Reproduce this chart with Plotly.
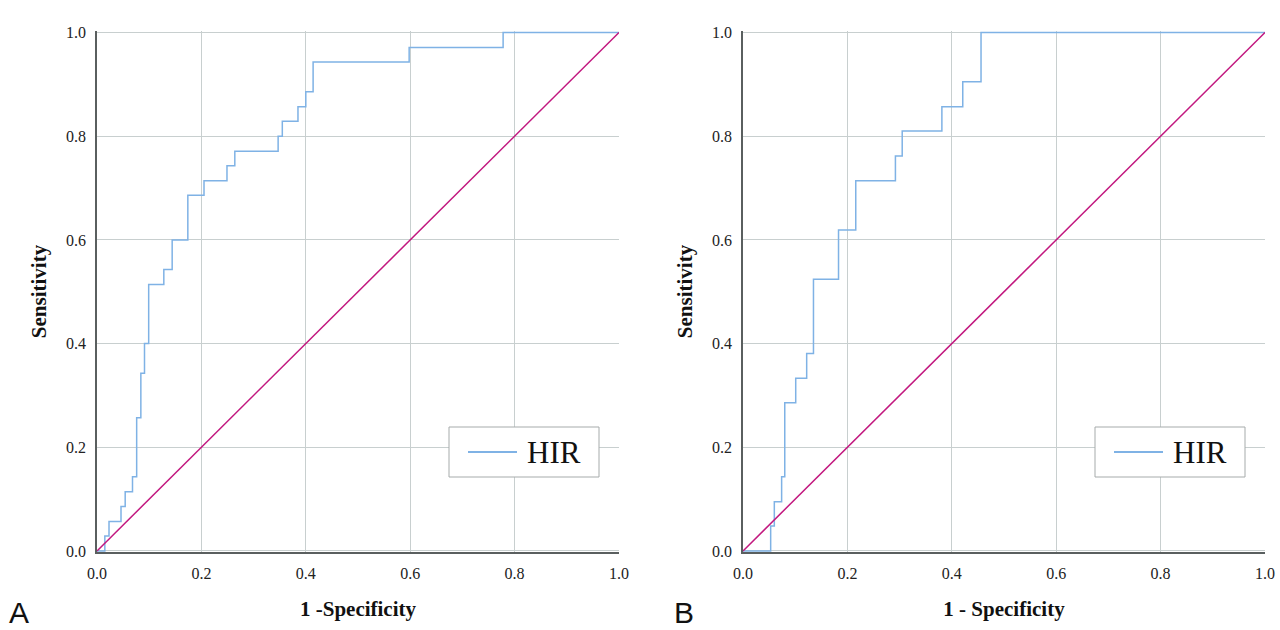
import plotly.graph_objects as go

# Panel A ROC step points (1 - specificity, sensitivity)
fpr_a = [0.0, 0.015, 0.023, 0.046, 0.054, 0.068, 0.076, 0.084, 0.091, 0.099,
         0.128, 0.144, 0.174, 0.205, 0.249, 0.264, 0.347, 0.355, 0.385, 0.400,
         0.414, 0.598, 0.778, 1.0]
tpr_a = [0.0, 0.029, 0.057, 0.086, 0.114, 0.143, 0.257, 0.343, 0.400, 0.514,
         0.543, 0.600, 0.686, 0.714, 0.743, 0.771, 0.800, 0.829, 0.857, 0.886,
         0.943, 0.971, 1.0, 1.0]

# Panel B ROC step points
fpr_b = [0.0, 0.053, 0.060, 0.074, 0.080, 0.101, 0.122, 0.135, 0.183, 0.216,
         0.292, 0.305, 0.381, 0.421, 0.456, 1.0]
tpr_b = [0.0, 0.048, 0.095, 0.143, 0.286, 0.333, 0.381, 0.524, 0.619, 0.714,
         0.762, 0.810, 0.857, 0.905, 1.0, 1.0]

ref_x = [0.0, 1.0]
ref_y = [0.0, 1.0]

tick_vals = [0.0, 0.2, 0.4, 0.6, 0.8, 1.0]
tick_text = ["0.0", "0.2", "0.4", "0.6", "0.8", "1.0"]

series_name = "HIR"
x_titles = ["1 -Specificity", "1 - Specificity"]
y_title = "Sensitivity"
panel_labels = ["A", "B"]

BLUE = "#7fb2e5"
MAGENTA = "#c2187f"
GRID = "#c8cfcf"
AXIS = "#5a5f5f"
SERIF = "Liberation Serif"

W, H = 1280, 630

def fx(p):
    return p / W

def fy(p):
    return 1 - p / H

left_dom = [fx(97), fx(619)]
right_dom = [fx(743), fx(1265)]
y_dom = [fy(552), fy(31)]

fig = go.Figure()

fig.add_trace(go.Scatter(x=fpr_a, y=tpr_a, mode="lines", line=dict(color=BLUE, width=1.5, shape="hv"),
                         name=series_name, xaxis="x", yaxis="y", showlegend=False))
fig.add_trace(go.Scatter(x=ref_x, y=ref_y, mode="lines", line=dict(color=MAGENTA, width=1.5),
                         showlegend=False, xaxis="x", yaxis="y"))
fig.add_trace(go.Scatter(x=fpr_b, y=tpr_b, mode="lines", line=dict(color=BLUE, width=1.5, shape="hv"),
                         name=series_name, xaxis="x2", yaxis="y2", showlegend=False))
fig.add_trace(go.Scatter(x=ref_x, y=ref_y, mode="lines", line=dict(color=MAGENTA, width=1.5),
                         showlegend=False, xaxis="x2", yaxis="y2"))

def xaxis(dom, anchor, title):
    return dict(domain=dom, anchor=anchor, range=[0, 1.0], tickvals=tick_vals, ticktext=tick_text,
                automargin=False,
                showgrid=True, gridcolor=GRID, gridwidth=1, zeroline=False,
                showline=True, linecolor=AXIS, linewidth=1.5, ticks="", ticklabelstandoff=6,
                tickfont=dict(family=SERIF, size=16, color="#222"),
                title=dict(text="<b>%s</b>" % title, font=dict(family=SERIF, size=21, color="#111"), standoff=20))

def yaxis(anchor):
    return dict(domain=y_dom, anchor=anchor, range=[-0.002, 1.003], tickvals=tick_vals, ticktext=tick_text,
                automargin=False,
                showgrid=True, gridcolor=GRID, gridwidth=1, zeroline=False,
                showline=True, linecolor=AXIS, linewidth=1.5, ticks="", ticklabelstandoff=6,
                tickfont=dict(family=SERIF, size=16, color="#222"),
                title=dict(text="<b>%s</b>" % y_title, font=dict(family=SERIF, size=21, color="#111"), standoff=14))

# Legend boxes (one per panel), drawn as a framed key: line sample + label
shapes = []
annotations = []
for box_left in (449, 1095):
    shapes.append(dict(type="rect", xref="paper", yref="paper",
                       x0=fx(box_left), x1=fx(box_left + 150), y0=fy(477), y1=fy(427),
                       line=dict(color="#a6abab", width=1), fillcolor="white", layer="above"))
    shapes.append(dict(type="line", xref="paper", yref="paper",
                       x0=fx(box_left + 19), x1=fx(box_left + 68), y0=fy(452), y1=fy(452),
                       line=dict(color=BLUE, width=2), layer="above"))
    annotations.append(dict(text=series_name, x=fx(box_left + 76), y=fy(452), xref="paper", yref="paper",
                            xanchor="left", yanchor="middle", showarrow=False,
                            font=dict(family=SERIF, size=31, color="#111")))

for lbl, cx in zip(panel_labels, (19, 684)):
    annotations.append(dict(text=lbl, x=fx(cx), y=fy(612), xref="paper", yref="paper",
                            xanchor="center", yanchor="middle", showarrow=False,
                            font=dict(family="Liberation Sans", size=30, color="#111")))

fig.update_layout(
    width=W, height=H,
    margin=dict(l=0, r=0, t=0, b=0, autoexpand=False),
    paper_bgcolor="white", plot_bgcolor="white",
    showlegend=False,
    xaxis=xaxis(left_dom, "y", x_titles[0]),
    yaxis=yaxis("x"),
    xaxis2=xaxis(right_dom, "y2", x_titles[1]),
    yaxis2=yaxis("x2"),
    shapes=shapes,
    annotations=annotations,
)

fig.write_html("out.html", config={"displayModeBar": False},
               post_script="document.body.style.margin='0';document.body.style.overflow='hidden';")
